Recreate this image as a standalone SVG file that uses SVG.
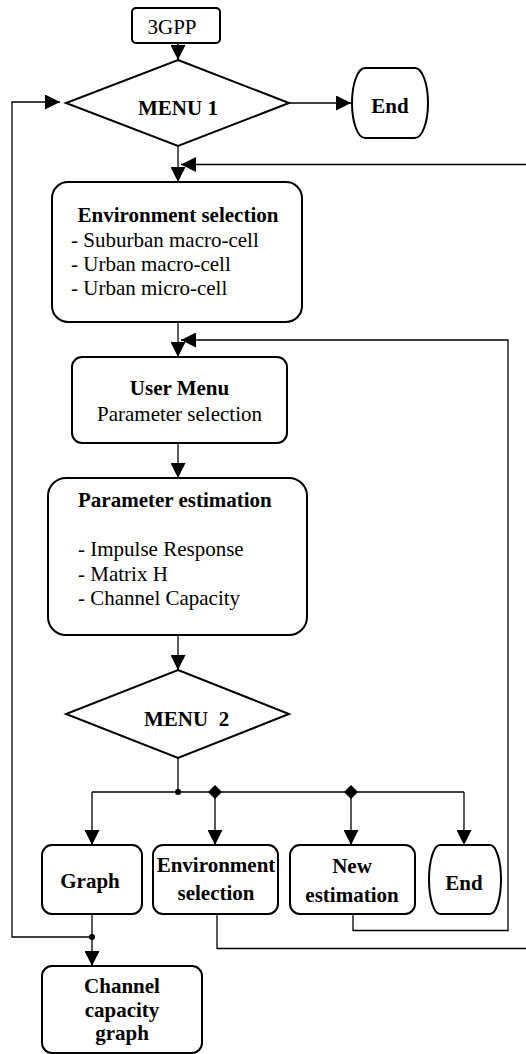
<svg xmlns="http://www.w3.org/2000/svg" width="526" height="1054" viewBox="0 0 526 1054">
<style>
.node{fill:#fff;stroke:#000;stroke-width:2}
.c{fill:none;stroke:#000;stroke-width:1.3}
text{font-family:"Liberation Serif","Times New Roman",serif;font-size:21px;fill:#000}
.b{font-weight:bold}
.m{text-anchor:middle}
</style>
<defs>
<marker id="ah" markerUnits="userSpaceOnUse" markerWidth="15" markerHeight="15" refX="15" refY="7.5" orient="auto" viewBox="0 0 15 15">
<path d="M0,0 L15,7.5 L0,15 Z" fill="#000"/>
</marker>
</defs>
<rect width="526" height="1054" fill="#fff"/>
<g id="connectors">
<path class="c" d="M178,43 V60" marker-end="url(#ah)"/>
<path class="c" d="M289,103 H351" marker-end="url(#ah)"/>
<path class="c" d="M178,146 V182" marker-end="url(#ah)"/>
<path class="c" d="M217,914 V948.5 H527.5 V164.5 H181" marker-end="url(#ah)"/>
<path class="c" d="M178,322 V357" marker-end="url(#ah)"/>
<path class="c" d="M353,914 V930.5 H508 V340 H181" marker-end="url(#ah)"/>
<path class="c" d="M178,443 V478" marker-end="url(#ah)"/>
<path class="c" d="M178,635 V670" marker-end="url(#ah)"/>
<path class="c" d="M178,758 V792 M92,792 H464"/>
<path class="c" d="M92,792 V845" marker-end="url(#ah)"/>
<path class="c" d="M215,792 V845" marker-end="url(#ah)"/>
<path class="c" d="M351,792 V845" marker-end="url(#ah)"/>
<path class="c" d="M464,792 V845" marker-end="url(#ah)"/>
<circle cx="178" cy="792" r="3" fill="#000"/>
<path d="M215,785 L222,792 L215,799 L208,792 Z" fill="#000"/>
<path d="M351,785 L358,792 L351,799 L344,792 Z" fill="#000"/>
<path class="c" d="M92,914 V966" marker-end="url(#ah)"/>
<path class="c" d="M92,937 H12 V102 H60" marker-end="url(#ah)"/>
<circle cx="92" cy="937" r="3" fill="#000"/>
</g>
<g id="n3gpp">
<rect class="node" x="132" y="8" width="88" height="35" rx="4"/>
<text class="m" x="172" y="34">3GPP</text>
</g>
<g id="menu1">
<path class="node" d="M178,60 L289,103 L178,146 L66,103 Z"/>
<text class="b m" x="178" y="115">MENU 1</text>
</g>
<g id="end1">
<path class="node" d="M365,68 H415 A13,35 0 0 1 415,138 H365 A13,35 0 0 1 365,68 Z"/>
<text class="b m" x="390" y="113">End</text>
</g>
<g id="envsel">
<rect class="node" x="52" y="182" width="250" height="140" rx="16"/>
<text class="b m" x="178" y="222">Environment selection</text>
<text x="71" y="246.5">- Suburban macro-cell</text>
<text x="71" y="270.5">- Urban macro-cell</text>
<text x="71" y="294.5">- Urban micro-cell</text>
</g>
<g id="usermenu">
<rect class="node" x="72" y="357" width="215" height="86" rx="10"/>
<text class="b m" x="179.5" y="395">User Menu</text>
<text class="m" x="179.5" y="421">Parameter selection</text>
</g>
<g id="paramest">
<rect class="node" x="48" y="478" width="259" height="157" rx="18"/>
<text class="b" x="78" y="507">Parameter estimation</text>
<text x="78" y="556">- Impulse Response</text>
<text x="78" y="580.5">- Matrix H</text>
<text x="78" y="605">- Channel Capacity</text>
</g>
<g id="menu2">
<path class="node" d="M178,670 L289,714 L178,758 L66,714 Z"/>
<text class="b" x="144" y="726" xml:space="preserve">MENU  2</text>
</g>
<g id="graph">
<rect class="node" x="42" y="845" width="100" height="69" rx="10"/>
<text class="b m" x="90" y="888">Graph</text>
</g>
<g id="envsel2">
<rect class="node" x="153" y="845" width="125" height="69" rx="10"/>
<text class="b m" x="216" y="872">Environment</text>
<text class="b m" x="216" y="900">selection</text>
</g>
<g id="newest">
<rect class="node" x="290" y="845" width="125" height="69" rx="10"/>
<text class="b m" x="352" y="873">New</text>
<text class="b m" x="352" y="901.5">estimation</text>
</g>
<g id="end2">
<path class="node" d="M440,845 H490 A11,34.5 0 0 1 490,914 H440 A11,34.5 0 0 1 440,845 Z"/>
<text class="b m" x="464" y="890">End</text>
</g>
<g id="ccgraph">
<rect class="node" x="42" y="966" width="160" height="87" rx="10"/>
<text class="b m" x="122" y="992.5">Channel</text>
<text class="b m" x="122" y="1016.5">capacity</text>
<text class="b m" x="122" y="1040">graph</text>
</g>
</svg>
